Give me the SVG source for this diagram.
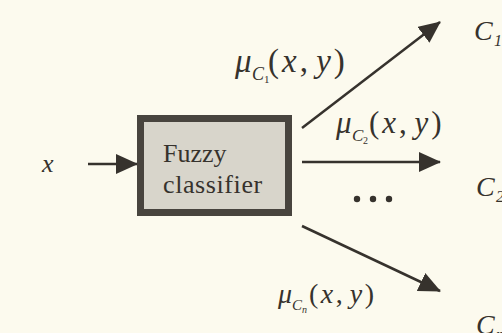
<svg xmlns="http://www.w3.org/2000/svg" width="502" height="333" viewBox="0 0 502 333">
<defs>
<style>
.t{font-family:"Liberation Serif","Times New Roman",serif;fill:#36322d}
.i{font-style:italic}
.ln{stroke:#36322d;stroke-width:2.5;fill:none}
.sp{letter-spacing:3px}
</style>
<marker id="ah" viewBox="0 0 22 20" refX="21" refY="10" markerWidth="22" markerHeight="20" markerUnits="userSpaceOnUse" orient="auto">
<path d="M0,0 L22,10 L0,20 Z" fill="#36322d"/>
</marker>
</defs>
<rect width="502" height="333" fill="#fcfaee"/>
<g id="connectors">
<line class="ln" x1="88" y1="164" x2="137" y2="164" marker-end="url(#ah)"/>
<line class="ln" x1="302" y1="128" x2="440" y2="22" marker-end="url(#ah)"/>
<line class="ln" x1="302" y1="162" x2="440" y2="162" marker-end="url(#ah)"/>
<line class="ln" x1="302" y1="226" x2="440" y2="291" marker-end="url(#ah)"/>
</g>
<g id="input">
<text class="t i" x="42" y="172" font-size="26">x</text>
</g>
<g id="classifier">
<rect x="140.5" y="118.5" width="148" height="94" fill="#d8d5cb" stroke="#48443e" stroke-width="7"/>
<text class="t" x="163" y="162" font-size="26">Fuzzy</text>
<text class="t" x="163" y="193" font-size="26" letter-spacing="0.6">classifier</text>
</g>
<g id="label-c1">
<text class="t" font-size="33"><tspan class="i" x="235" y="72">μ</tspan><tspan class="i" x="252" y="80" font-size="18">C</tspan><tspan x="264" y="83" font-size="11">1</tspan><tspan class="sp" x="268" y="72">(</tspan><tspan class="i sp">x</tspan><tspan>, </tspan><tspan class="i sp">y</tspan><tspan>)</tspan></text>
</g>
<g id="label-c2">
<text class="t" font-size="31"><tspan class="i" x="336" y="133">μ</tspan><tspan class="i" x="352" y="141" font-size="17">C</tspan><tspan x="363" y="144" font-size="10">2</tspan><tspan class="sp" x="369" y="133">(</tspan><tspan class="i sp">x</tspan><tspan>, </tspan><tspan class="i sp">y</tspan><tspan>)</tspan></text>
</g>
<g id="label-cn">
<text class="t" font-size="28"><tspan class="i" x="278" y="303">μ</tspan><tspan class="i" x="292" y="310" font-size="15">C</tspan><tspan class="i" x="302" y="313" font-size="10">n</tspan><tspan x="309" y="303" letter-spacing="2.5">(</tspan><tspan class="i" letter-spacing="2.5">x</tspan><tspan>, </tspan><tspan class="i" letter-spacing="2.5">y</tspan><tspan>)</tspan></text>
</g>
<g id="dots" fill="#36322d">
<circle cx="357" cy="199" r="3.2"/>
<circle cx="373" cy="199" r="3.2"/>
<circle cx="389" cy="199" r="3.2"/>
</g>
<g id="out-c1">
<text class="t i" font-size="28"><tspan x="474" y="40">C</tspan><tspan x="494" y="46" font-size="16">1</tspan></text>
</g>
<g id="out-c2">
<text class="t i" font-size="28"><tspan x="476" y="196">C</tspan><tspan x="496" y="202" font-size="16">2</tspan></text>
</g>
<g id="out-cn">
<text class="t i" font-size="28"><tspan x="476" y="334">C</tspan><tspan x="496" y="340" font-size="16">n</tspan></text>
</g>
</svg>
